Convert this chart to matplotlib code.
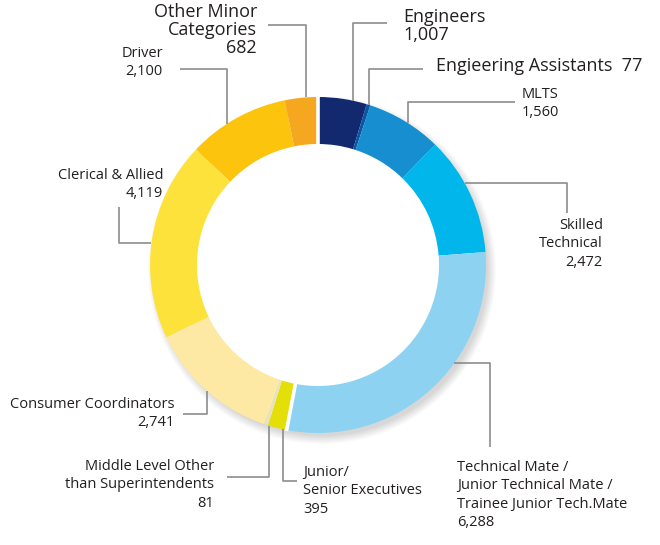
import matplotlib
matplotlib.use("Agg")
import matplotlib.pyplot as plt
import numpy as np

# ---------------------------------------------------------------------------
# data
# ---------------------------------------------------------------------------
categories = [
    "Engineers", "Engieering Assistants", "MLTS", "Skilled Technical",
    "Technical Mate", "Junior/Senior Executives", "Middle Level Other",
    "Consumer Coordinators", "Clerical & Allied", "Driver", "Other Minor Categories",
]
values = [1007, 77, 1560, 2472, 6288, 395, 81, 2741, 4119, 2100, 682]
value_labels = ["1,007", "77", "1,560", "2,472", "6,288", "395", "81",
                "2,741", "4,119", "2,100", "682"]

COLORS = ["#12296f", "#0a55a4", "#168ecf", "#00b6ea", "#8dd3f1", "#e4df08",
          "#e8e4b8", "#fde9a3", "#fde23c", "#fcc40d", "#f5a81f"]

plt.rcParams["font.family"] = ["Open Sans", "DejaVu Sans"]

W, H = 660, 545
CX, CY, R, RW = 318, 265, 168, 47
LINE_C = "#8c8c8c"
TXT_C = "#231f20"

fig = plt.figure(figsize=(W / 100, H / 100), dpi=100)
ax = fig.add_axes([0, 0, 1, 1])

# soft drop shadow behind the ring (lower right)
for k in range(10):
    ax.add_patch(matplotlib.patches.Wedge((CX + 4, CY + 5), R + 6 - k * 0.9, 0, 360,
                                          width=14, color="black",
                                          alpha=0.015, lw=0, zorder=0))

# y axis inverted -> startangle -90 is 12 o'clock, counterclock appears clockwise
wedges, _ = ax.pie(values, colors=COLORS, startangle=-90, counterclock=True,
                   center=(CX, CY), radius=R,
                   wedgeprops=dict(width=RW, linewidth=0), frame=True)
ax.set_xlim(0, W)
ax.set_ylim(H, 0)          # pixel coords, y down
ax.set_aspect("equal")
ax.axis("off")

# white gaps at top and between executives / technical mate
cum = np.cumsum([0] + values) / sum(values) * 360
for idx in (0, 5):
    a = np.deg2rad(-90 + cum[idx])
    ax.plot([CX + (R - RW - 1) * np.cos(a), CX + (R + 1) * np.cos(a)],
            [CY + (R - RW - 1) * np.sin(a), CY + (R + 1) * np.sin(a)],
            color="white", lw=2.6, zorder=4, solid_capstyle="butt")


def ring_y(x, below=False):
    d = np.sqrt(R ** 2 - (x - CX) ** 2)
    return CY + d if below else CY - d


def ring_x(y, right=False):
    d = np.sqrt(R ** 2 - (y - CY) ** 2)
    return CX + d if right else CX - d


# leader lines: path from the label side, last segment ends on the ring
leaders = [
    [(387, 23), (353, 23), (353, ring_y(353))],
    [(423, 69), (369, 69), (369, ring_y(369))],
    [(515, 102), (408, 102), (408, ring_y(408))],
    [(567, 213), (567, 183), (ring_x(183, True), 183)],
    [(490, 447), (490, 363), (ring_x(363, True), 363)],
    [(297, 481), (283, 481), (283, ring_y(283, True))],
    [(227, 477), (269, 477), (269, ring_y(269, True))],
    [(183, 414), (207, 414), (207, ring_y(207, True))],
    [(119, 207), (119, 243), (ring_x(243), 243)],
    [(180, 69), (227, 69), (227, ring_y(227))],
    [(268, 25), (306, 25), (306, ring_y(306))],
]
for pts in leaders:
    xs, ys = zip(*pts)
    ax.plot(xs, ys, color=LINE_C, lw=1.2, zorder=1, solid_capstyle="butt")

# labels
small = 10.5
big = 13
labels = [
    (403, 8, "Engineers\n" + value_labels[0], "left", big),
    (436, 57, categories[1] + "  " + value_labels[1], "left", big),
    (522, 87, "MLTS\n" + value_labels[2], "left", small),
    (603, 218, "Skilled\nTechnical\n" + value_labels[3], "right", small),
    (457, 460, "Technical Mate /\nJunior Technical Mate /\n"
               "Trainee Junior Tech.Mate\n" + value_labels[4], "left", small),
    (303, 465, "Junior/\nSenior Executives\n" + value_labels[5], "left", small),
    (214, 459, "Middle Level Other\nthan Superintendents\n" + value_labels[6],
     "right", small),
    (175, 397, "Consumer Coordinators\n" + value_labels[7], "right", small),
    (163, 168, "Clerical & Allied\n" + value_labels[8], "right", small),
    (163, 46, "Driver\n" + value_labels[9], "right", small),
    (257, 3, "Other Minor\nCategories\n" + value_labels[10], "right", big),
]
for x, y, txt, ha, fs in labels:
    ax.text(x, y, txt, ha=ha, va="top", fontsize=fs, color=TXT_C,
            linespacing=1.0 if fs == big else 1.3, multialignment=ha,
            fontweight="medium" if fs == big else "normal")

fig.savefig("out.png", dpi=100)
